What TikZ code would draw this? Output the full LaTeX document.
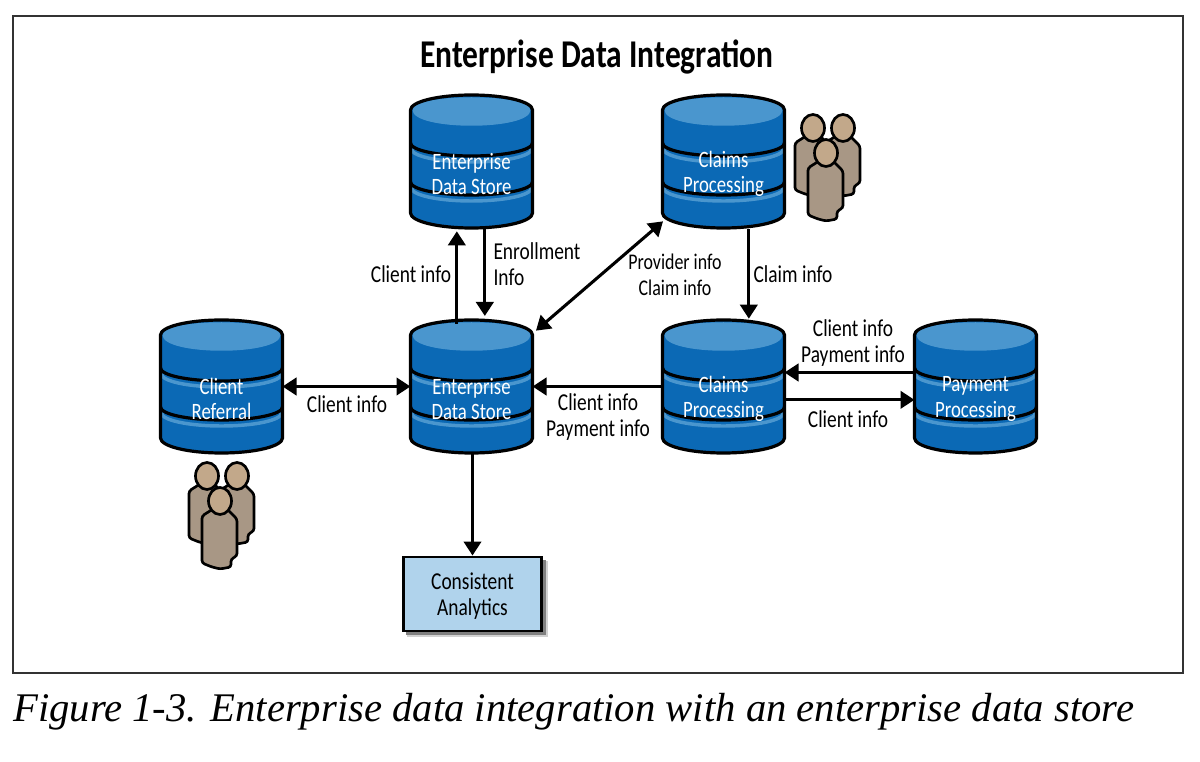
\documentclass[tikz,border=0pt]{standalone}
\usepackage{fontspec}
\setmainfont[FakeStretch=0.8]{Carlito}
\newfontfamily\capfont{Liberation Serif}
\usetikzlibrary{arrows.meta,calc}
\definecolor{dbbody}{HTML}{0B69B5}
\definecolor{dbtop}{HTML}{4A96CE}
\definecolor{boxfill}{HTML}{B0D3EC}
\definecolor{skin}{HTML}{C2A88A}
\definecolor{cloth}{HTML}{A89785}
\tikzset{
  x=0.75pt,y=-0.75pt,
  dboutline/.style={draw=black,line width=2.4pt},
  dbanchor/.style={minimum width=91.5pt,minimum height=99.75pt,inner sep=0pt,outer sep=0pt},
  dblabel/.style={text=white,font=\fontsize{17.6}{19}\selectfont,align=center,inner sep=0pt},
  lbl/.style={text=black,font=\fontsize{18.2}{19.5}\selectfont,align=center,inner sep=0pt},
  conn/.style={line width=2.3pt,draw=black,-{Triangle[length=10.5pt,width=13pt]}},
  conn2/.style={line width=2.3pt,draw=black,{Triangle[length=10.5pt,width=13pt]}-{Triangle[length=10.5pt,width=13pt]}},
  person/.style={fill=cloth,draw=black,line width=2pt,rounded corners=2pt},
  head/.style={fill=skin,draw=black,line width=2pt},
}
\newcommand{\dbcyl}[4]{%
 \begin{scope}[shift={(#2,#3)}]
  \fill[dbbody] (-61,15) -- (-61,118) arc[start angle=180,end angle=0,x radius=61,y radius=15] -- (61,15) arc[start angle=0,end angle=-180,x radius=61,y radius=15] -- cycle;
  \fill[dbtop] (-59,15) .. controls (-59,-2) and (59,-2) .. (59,15) .. controls (59,36) and (-59,36) .. (-59,15) -- cycle;
  \draw[dbtop,line width=2.6pt] (-60,54) arc[start angle=180,end angle=0,x radius=60,y radius=13];
  \draw[dbtop,line width=2.6pt] (-60,93) arc[start angle=180,end angle=0,x radius=60,y radius=13];
  \draw[dboutline] (-61,48) arc[start angle=180,end angle=0,x radius=61,y radius=13];
  \draw[dboutline] (-61,87) arc[start angle=180,end angle=0,x radius=61,y radius=13];
  \draw[dboutline,line join=round] (-61,15) -- (-61,118) arc[start angle=180,end angle=0,x radius=61,y radius=15] -- (61,15) arc[start angle=0,end angle=-180,x radius=61,y radius=15] -- cycle;
  \node[dbanchor] (#1) at (0,66.5) {};
  \node[dblabel] (#1L) at (0,79) {#4};
 \end{scope}}
\newcommand{\onefig}[2]{%
 \begin{scope}[shift={(#1,#2)}]
  \filldraw[person] (0,8) -- (-7,8) -- (-18,15) -- (-18,62) -- (-8,66) -- (0,68) -- (11,66) -- (11,58) -- (17,55) -- (17,18) -- (7,8) -- cycle;
  \filldraw[head] (0,0) ellipse[x radius=11.5,y radius=13.5];
 \end{scope}}
\newcommand{\crowd}[2]{%
 \begin{scope}[shift={(#1,#2)}]
  \onefig{-13}{-25}
  \onefig{17}{-25}
  \onefig{0}{0}
 \end{scope}}
\begin{document}
\begin{tikzpicture}
\useasboundingbox (0,0) rectangle (1200,762);
\fill[white] (0,0) rectangle (1200,762);
\draw[line width=0.8pt,draw=black!80] (13,16) rectangle (1183,673);
\node[inner sep=0pt,font=\fontsize{29.5}{30}\selectfont\bfseries] (title) at (597,57) {Enterprise Data Integration};

\dbcyl{edsTop}{471.5}{95}{Enterprise\\Data Store}
\dbcyl{claimsTop}{723.5}{95}{Claims\\Processing}
\dbcyl{referral}{221.5}{320}{Client\\Referral}
\dbcyl{eds}{471.5}{320}{Enterprise\\Data Store}
\dbcyl{claims}{723.5}{320}{Claims\\Processing}
\dbcyl{payment}{975.5}{320}{Payment\\Processing}

\crowd{826}{153}
\crowd{220}{501}

\fill[black!18] (407,561) rectangle (548,637);
\fill[black!50] (406,560) rectangle (546,635);
\node[draw=black,line width=2.2pt,fill=boxfill,minimum width=104pt,minimum height=55.5pt,inner sep=0pt] (analytics) at (472.5,594) {};
\node[lbl] (analyticsL) at (472.5,596) {Consistent\\Analytics};

\draw[conn] ([xshift=-11pt,yshift=-3pt]eds.north) -- ([xshift=-11pt,yshift=-2.5pt]edsTop.south);
\draw[conn] ([xshift=10pt]edsTop.south) -- ([xshift=10pt,yshift=3pt]eds.north);
\draw[conn2] ($(claimsTop.south west)+(0.4pt,5pt)$) -- ($(eds.north east)+(2.6pt,-8pt)$);
\draw[conn2] (referral.east) -- (eds.west);
\draw[conn] ([xshift=0.75pt]eds.south) -- (analytics.north);
\draw[conn] (claims.west) -- (eds.east);
\draw[conn] ([xshift=19pt,yshift=-1pt]claimsTop.south) -- ([xshift=19pt,yshift=1pt]claims.north);
\draw[conn] ([yshift=10.5pt]payment.west) -- ([yshift=10.5pt]claims.east);
\draw[conn] ([yshift=-10pt]claims.east) -- ([yshift=-10pt]payment.west);

\node[lbl] (l1) at (411,274) {Client info};
\node[lbl,align=left] (l2) at (537,264) {Enrollment\\Info};
\node[lbl,font=\fontsize{16.8}{19.5}\selectfont] (l3) at (675,275) {Provider info\\Claim info};
\node[lbl] (l4) at (793,274) {Claim info};
\node[lbl] (l5) at (347,404) {Client info};
\node[lbl] (l6) at (598,417) {Client info\\Payment info};
\node[lbl] (l7) at (853,343) {Client info\\Payment info};
\node[lbl] (l8) at (848,419) {Client info};

\node[anchor=west,inner sep=0pt,font=\capfont\itshape\fontsize{30.5}{34}\selectfont] (caption) at (13,712) {Figure 1-3. Enterprise data integration with an enterprise data store};
\end{tikzpicture}
\end{document}
